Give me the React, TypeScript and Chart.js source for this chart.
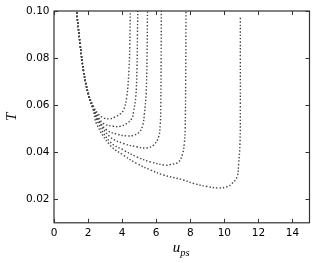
import React, { useEffect, useRef } from "react";
import { Chart, registerables } from "chart.js";

Chart.register(...registerables);

// x values (u_ps) and y values (T) for each curve
const curve1X = [1.33, 1.53, 1.73, 2.02, 2.31, 2.6, 2.9, 3.29, 3.59, 3.88, 4.08, 4.27, 4.4, 4.45, 4.48];
const curve1Y = [0.0995, 0.0863, 0.0749, 0.065, 0.0595, 0.0562, 0.0546, 0.0542, 0.055, 0.0562, 0.0579, 0.0635, 0.075, 0.085, 0.101];

const curve2X = [1.33, 1.53, 1.73, 2.02, 2.31, 2.6, 2.9, 3.49, 3.88, 4.27, 4.57, 4.67, 4.8, 4.87, 4.9, 4.92];
const curve2Y = [0.0995, 0.0862, 0.0748, 0.0648, 0.0592, 0.055, 0.0522, 0.051, 0.051, 0.0522, 0.0543, 0.0572, 0.0635, 0.075, 0.09, 0.101];

const curve3X = [1.33, 1.53, 1.73, 2.02, 2.31, 2.6, 3.1, 3.69, 4.27, 4.67, 5.02, 5.21, 5.31, 5.41, 5.46, 5.49];
const curve3Y = [0.0995, 0.0861, 0.0747, 0.0646, 0.0589, 0.054, 0.0494, 0.0477, 0.0469, 0.0472, 0.0486, 0.0515, 0.0565, 0.065, 0.08, 0.101];

const curve4X = [1.33, 1.53, 1.73, 2.02, 2.31, 2.6, 3.29, 4.08, 4.86, 5.45, 5.84, 6.14, 6.24, 6.27, 6.29, 6.3];
const curve4Y = [0.0995, 0.086, 0.0746, 0.0644, 0.0586, 0.0535, 0.0465, 0.0437, 0.0423, 0.0418, 0.043, 0.0465, 0.0522, 0.06, 0.08, 0.101];

const curve5X = [1.33, 1.53, 1.73, 2.02, 2.31, 2.55, 3.29, 4.08, 4.86, 5.65, 6.53, 6.82, 7.31, 7.55, 7.65, 7.7, 7.73, 7.75];
const curve5Y = [0.0995, 0.0859, 0.0745, 0.0642, 0.0582, 0.053, 0.0444, 0.0409, 0.038, 0.0359, 0.0345, 0.0347, 0.0358, 0.0394, 0.0437, 0.05, 0.07, 0.101];

const curve6X = [1.33, 1.53, 1.73, 2.02, 2.31, 2.5, 3.29, 4.08, 4.86, 5.65, 6.43, 7.6, 8.2, 9.0, 9.67, 10.2, 10.45, 10.75, 10.84, 10.92, 10.94, 10.94, 10.94];
const curve6Y = [0.0995, 0.0858, 0.0744, 0.064, 0.0578, 0.052, 0.043, 0.0387, 0.0352, 0.0325, 0.0303, 0.0282, 0.0267, 0.0254, 0.0248, 0.0254, 0.0267, 0.0295, 0.0352, 0.0437, 0.06, 0.08, 0.0976];

const curvesX = [curve1X, curve2X, curve3X, curve4X, curve5X, curve6X];
const curvesY = [curve1Y, curve2Y, curve3Y, curve4Y, curve5Y, curve6Y];

const xTicks = [0, 2, 4, 6, 8, 10, 12, 14];
const yTicks = [0.02, 0.04, 0.06, 0.08, 0.1];
const xTitleMain = "u";
const xTitleSub = "ps";
const yTitle = "T";

export default function App() {
  const ref = useRef<HTMLCanvasElement | null>(null);

  useEffect(() => {
    if (!ref.current) return;

    const frame = {
      id: "frameTicks",
      afterDraw(chart: any) {
        const { ctx, chartArea: a, scales } = chart;
        ctx.save();
        ctx.strokeStyle = "#333";
        ctx.lineWidth = 1.2;
        ctx.strokeRect(a.left, a.top, a.right - a.left, a.bottom - a.top);
        const len = 4;
        ctx.lineWidth = 1;
        ctx.beginPath();
        for (const v of yTicks) {
          const y = Math.round(scales.y.getPixelForValue(v)) + 0.5;
          ctx.moveTo(a.left, y);
          ctx.lineTo(a.left + len, y);
          ctx.moveTo(a.right, y);
          ctx.lineTo(a.right - len, y);
        }
        for (const v of xTicks) {
          const x = Math.round(scales.x.getPixelForValue(v)) + 0.5;
          ctx.moveTo(x, a.bottom);
          ctx.lineTo(x, a.bottom - len);
          ctx.moveTo(x, a.top);
          ctx.lineTo(x, a.top + len);
        }
        ctx.stroke();
        // x title with subscript
        ctx.fillStyle = "#000";
        ctx.textBaseline = "alphabetic";
        ctx.font = "italic 15px 'Liberation Serif'";
        const wMain = ctx.measureText(xTitleMain).width;
        ctx.font = "italic 10.5px 'Liberation Serif'";
        const wSub = ctx.measureText(xTitleSub).width;
        const cx = (a.left + a.right) / 2 - 0.5;
        const x0 = cx - (wMain + wSub) / 2;
        ctx.font = "italic 15px 'Liberation Serif'";
        ctx.fillText(xTitleMain, x0, 251.5);
        ctx.font = "italic 10.5px 'Liberation Serif'";
        ctx.fillText(xTitleSub, x0 + wMain, 256);
        ctx.restore();
      },
    };

    const chart = new Chart(ref.current, {
      type: "scatter",
      data: {
        datasets: curvesX.map((xs, i) => ({
          label: "curve " + (i + 1),
          data: xs.map((x, j) => ({ x, y: curvesY[i][j] })),
          showLine: true,
          borderColor: "#444",
          borderWidth: 1.4,
          borderDash: [1.4, 2.0],
          pointRadius: 0,
          tension: 0.4,
          fill: false,
        })),
      },
      options: {
        animation: false,
        responsive: false,
        maintainAspectRatio: false,
        layout: { padding: { left: 0, top: 11, right: 6.5, bottom: 0 } },
        plugins: { legend: { display: false }, tooltip: { enabled: false } },
        scales: {
          x: {
            type: "linear",
            min: 0,
            max: 15,
            afterBuildTicks: (s: any) => {
              s.ticks = xTicks.map((v) => ({ value: v }));
            },
            afterFit: (s: any) => {
              s.height = 40.2;
            },
            grid: { display: false, drawTicks: false },
            border: { display: false },
            ticks: {
              color: "#000",
              padding: 4,
              font: { family: "'DejaVu Sans'", size: 10.5 },
              maxRotation: 0,
              autoSkip: false,
              callback: (v: any) => String(v),
            },
          },
          y: {
            type: "linear",
            min: 0.01,
            max: 0.1,
            afterBuildTicks: (s: any) => {
              s.ticks = yTicks.map((v) => ({ value: v }));
            },
            afterFit: (s: any) => {
              s.width = 54;
            },
            grid: { display: false, drawTicks: false },
            border: { display: false },
            title: {
              display: true,
              text: yTitle,
              color: "#000",
              font: { family: "'Liberation Serif'", size: 15, style: "italic" },
              padding: { top: 3, bottom: 0 },
            },
            ticks: {
              color: "#000",
              padding: 4.5,
              font: { family: "'DejaVu Sans'", size: 10.5 },
              autoSkip: false,
              callback: (v: any) => Number(v).toFixed(2),
            },
          },
        },
      },
      plugins: [frame],
    });

    return () => chart.destroy();
  }, []);

  return (
    <div style={{ position: "fixed", left: 0, top: 0, width: 316, height: 263, background: "#fff" }}>
      <canvas ref={ref} width={316} height={263} />
    </div>
  );
}
